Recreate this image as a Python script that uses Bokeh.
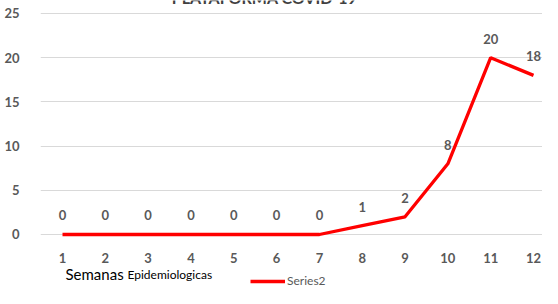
from bokeh.plotting import figure
from bokeh.models import (ColumnDataSource, FixedTicker, Label, Legend, LegendItem, Range1d)
from bokeh.core.properties import value
from bokeh.embed import file_html
from bokeh.resources import INLINE

# ---- data ----
weeks = [1, 2, 3, 4, 5, 6, 7, 8, 9, 10, 11, 12]
cases = [0, 0, 0, 0, 0, 0, 0, 1, 2, 8, 20, 18]
week_labels = [str(w) for w in weeks]
y_ticks = [0, 5, 10, 15, 20, 25]
series_name = "Series2"
title_text = "PLATAFORMA COVID-19"
xlabel_big = "Semanas"
xlabel_small = "Epidemiologicas"

GRAY = "#595959"
FONT = "Lato"

source = ColumnDataSource(dict(x=weeks, y=cases, lab=[str(c) for c in cases]))

p = figure(width=542, height=288, output_backend="svg", toolbar_location=None,
           x_range=Range1d(0.4862, 12.210), y_range=Range1d(-6.109, 26.47),
           min_border_left=40, min_border_right=0, min_border_top=0, min_border_bottom=0)
p.outline_line_color = None
p.background_fill_color = "white"
p.border_fill_color = "white"

# axes
p.xaxis.ticker = FixedTicker(ticks=weeks)
p.xaxis.major_label_overrides = {w: l for w, l in zip(weeks, week_labels)}
p.xaxis.fixed_location = 0
p.yaxis.ticker = FixedTicker(ticks=y_ticks)
for ax in (p.xaxis[0], p.yaxis[0]):
    ax.axis_line_color = None
    ax.major_tick_line_color = None
    ax.minor_tick_line_color = None
    ax.major_label_text_font = FONT
    ax.major_label_text_font_style = "bold"
    ax.major_label_text_font_size = "13px"
    ax.major_label_text_color = GRAY
p.xaxis.major_label_standoff = 13
p.yaxis.major_label_standoff = 15

p.xgrid.grid_line_color = None
p.ygrid.ticker = FixedTicker(ticks=y_ticks)
p.ygrid.grid_line_color = "#d9d9d9"
p.ygrid.grid_line_width = 1

# line
r = p.line("x", "y", source=source, line_color="#ff0000", line_width=3.3)

# data labels
p.text("x", "y", text="lab", source=source, y_offset=-19,
       text_align="center", text_baseline="middle",
       text_font=value(FONT), text_font_style="bold", text_font_size="13px",
       text_color=GRAY)

# title (cut off at top, as in the source image)
p.add_layout(Label(x=5.72, y=25.68, text=title_text, text_align="center",
                   text_baseline="bottom", text_font=FONT, text_font_style="bold",
                   text_font_size="16px", text_color="#404040"))

# axis title in two sizes
p.add_layout(Label(x=1.07, y=-4.52, text=xlabel_big, text_align="left",
                   text_baseline="alphabetic", text_font=FONT,
                   text_font_size="15px", text_color="black"))
p.add_layout(Label(x=2.518, y=-4.52, text=xlabel_small, text_align="left",
                   text_baseline="alphabetic", text_font=FONT,
                   text_font_size="12px", text_color="black"))

legend = Legend(items=[LegendItem(label=series_name, renderers=[r])],
                location=(210, 0), orientation="horizontal",
                glyph_width=35, glyph_height=12, label_standoff=2,
                padding=0, margin=0, border_line_color=None,
                background_fill_alpha=0,
                label_text_font=FONT, label_text_font_size="12px",
                label_text_color=GRAY)
p.add_layout(legend)

open("out.html", "w").write(file_html(p, INLINE))
